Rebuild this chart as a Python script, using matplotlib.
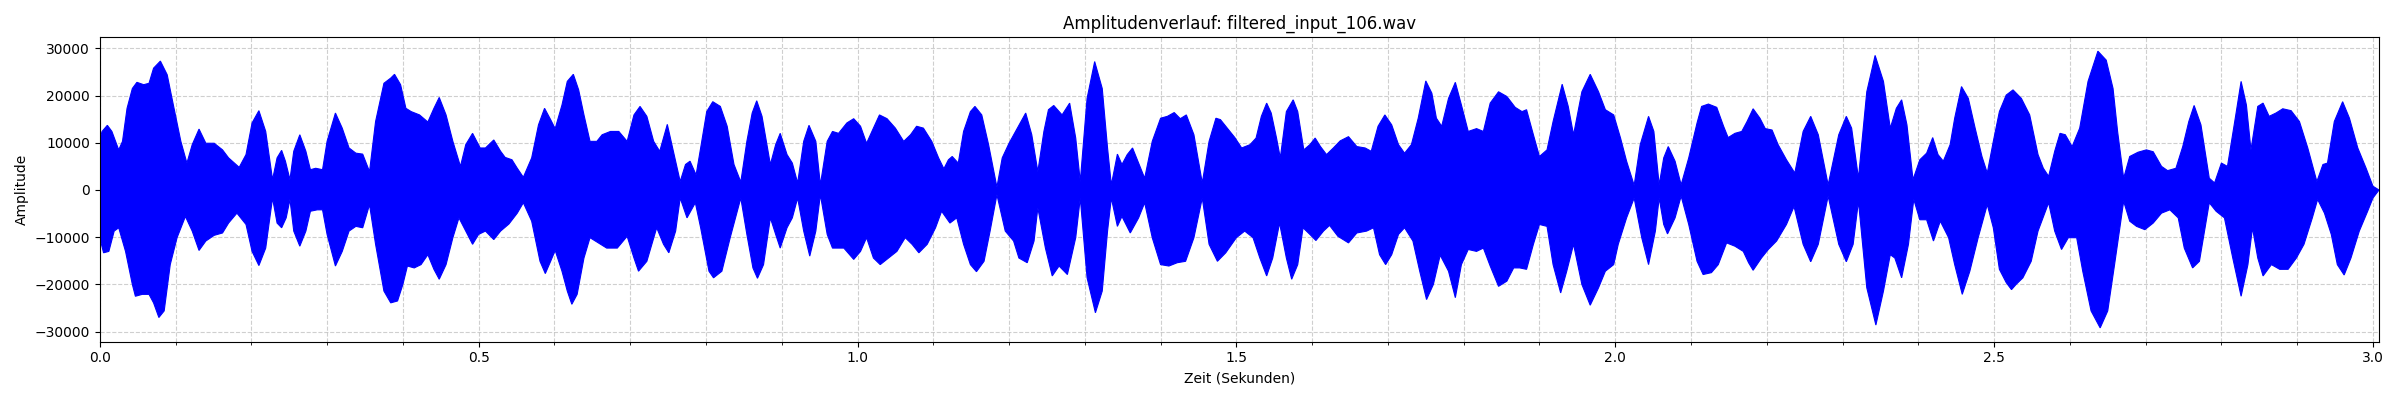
import numpy as np
import matplotlib
matplotlib.use("Agg")
import matplotlib.pyplot as plt
from matplotlib.ticker import MultipleLocator

title = "Amplitudenverlauf: filtered_input_106.wav"
x_label = "Zeit (Sekunden)"
y_label = "Amplitude"
duration = 3.008

# Upper envelope of the waveform (time in s, amplitude)
upper_t = [0.000, 0.003, 0.010, 0.016, 0.025, 0.030, 0.036, 0.043, 0.049, 0.058, 0.065, 0.071, 0.080, 0.089, 0.098,
           0.107, 0.115, 0.122, 0.131, 0.140, 0.151, 0.162, 0.170, 0.184, 0.193, 0.201, 0.210, 0.219, 0.228, 0.234,
           0.240, 0.245, 0.251, 0.256, 0.264, 0.272, 0.278, 0.285, 0.294, 0.300, 0.311, 0.320, 0.329, 0.338, 0.347,
           0.356, 0.364, 0.375, 0.384, 0.389, 0.397, 0.404, 0.411, 0.422, 0.433, 0.441, 0.448, 0.457, 0.466, 0.476,
           0.483, 0.492, 0.502, 0.509, 0.520, 0.529, 0.535, 0.544, 0.551, 0.559, 0.570, 0.579, 0.587, 0.595, 0.601,
           0.610, 0.617, 0.625, 0.632, 0.639, 0.647, 0.656, 0.663, 0.674, 0.685, 0.696, 0.705, 0.713, 0.722, 0.731,
           0.739, 0.749, 0.757, 0.766, 0.773, 0.779, 0.787, 0.793, 0.801, 0.809, 0.819, 0.828, 0.837, 0.846, 0.854,
           0.861, 0.867, 0.874, 0.885, 0.892, 0.898, 0.907, 0.914, 0.921, 0.929, 0.936, 0.945, 0.951, 0.960, 0.967,
           0.975, 0.986, 0.995, 1.004, 1.012, 1.021, 1.029, 1.039, 1.050, 1.061, 1.070, 1.078, 1.087, 1.098, 1.107,
           1.114, 1.120, 1.125, 1.133, 1.140, 1.149, 1.155, 1.164, 1.173, 1.184, 1.191, 1.200, 1.211, 1.222, 1.230,
           1.238, 1.246, 1.252, 1.259, 1.270, 1.280, 1.288, 1.294, 1.303, 1.313, 1.323, 1.330, 1.335, 1.343, 1.349,
           1.356, 1.363, 1.371, 1.379, 1.389, 1.400, 1.409, 1.418, 1.426, 1.434, 1.444, 1.455, 1.464, 1.473, 1.479,
           1.490, 1.498, 1.507, 1.518, 1.526, 1.533, 1.540, 1.546, 1.553, 1.558, 1.566, 1.575, 1.581, 1.589, 1.597,
           1.604, 1.611, 1.619, 1.628, 1.637, 1.648, 1.659, 1.670, 1.678, 1.687, 1.696, 1.705, 1.714, 1.722, 1.731,
           1.740, 1.750, 1.758, 1.764, 1.771, 1.780, 1.789, 1.797, 1.806, 1.817, 1.826, 1.835, 1.846, 1.857, 1.868,
           1.877, 1.883, 1.892, 1.900, 1.910, 1.918, 1.930, 1.938, 1.945, 1.956, 1.967, 1.978, 1.987, 1.998, 2.007,
           2.015, 2.025, 2.033, 2.044, 2.051, 2.058, 2.064, 2.070, 2.079, 2.087, 2.097, 2.108, 2.114, 2.123, 2.134,
           2.143, 2.149, 2.158, 2.167, 2.174, 2.182, 2.191, 2.198, 2.207, 2.215, 2.226, 2.237, 2.248, 2.258, 2.268,
           2.281, 2.295, 2.305, 2.312, 2.321, 2.332, 2.343, 2.354, 2.363, 2.371, 2.378, 2.385, 2.393, 2.402, 2.411,
           2.419, 2.426, 2.433, 2.442, 2.448, 2.457, 2.466, 2.475, 2.484, 2.491, 2.499, 2.507, 2.516, 2.525, 2.536,
           2.547, 2.558, 2.565, 2.572, 2.580, 2.587, 2.594, 2.603, 2.613, 2.624, 2.637, 2.648, 2.657, 2.663, 2.671,
           2.679, 2.690, 2.701, 2.710, 2.721, 2.729, 2.740, 2.749, 2.757, 2.764, 2.773, 2.784, 2.791, 2.800, 2.808,
           2.819, 2.826, 2.833, 2.839, 2.848, 2.855, 2.863, 2.872, 2.881, 2.892, 2.903, 2.914, 2.926, 2.934, 2.940,
           2.949, 2.960, 2.969, 2.980, 2.991, 3.000, 3.008]
upper_a = [10600, 12400, 13700, 12400, 8500, 10300, 17300, 21500, 22800, 22300, 22600, 25800, 27300, 24400, 17300,
           10300, 5700, 9600, 12900, 9900, 9900, 8500, 6800, 4800, 7500, 14200, 16800, 12400, 2200, 6800,
           8400, 6100, 2200, 8200, 11700, 8200, 4300, 4600, 4300, 10300, 16300, 13100, 8900, 7800, 7600,
           3900, 14500, 22600, 23700, 24500, 22300, 17300, 16600, 15900, 14400, 17300, 19600, 15900, 10300, 5000,
           9600, 12000, 8900, 8900, 10600, 8200, 6900, 6400, 4600, 2700, 6800, 13800, 17300, 14900, 13000,
           18000, 23000, 24500, 21200, 15900, 10300, 10300, 11700, 12400, 12400, 10300, 15900, 17700, 15600, 10300,
           8200, 13900, 8200, 1800, 5400, 6100, 3200, 8900, 16600, 18700, 17700, 13500, 5400, 1700, 10300,
           16300, 18900, 15600, 5400, 9600, 12000, 7500, 5700, 1500, 10300, 13700, 10300, 1100, 10300, 12400,
           12000, 14200, 15100, 13500, 9900, 13100, 15900, 15100, 13100, 10300, 11700, 13500, 13100, 10300, 6800,
           4500, 6400, 7100, 5700, 12400, 16600, 17700, 15900, 9600, 600, 6800, 9900, 13100, 16300, 11700,
           3900, 12400, 17000, 17900, 15900, 18400, 11000, 1800, 19400, 27200, 21500, 8900, 1100, 7600, 5400,
           7500, 8900, 5700, 2500, 10300, 15200, 15600, 16400, 15100, 15900, 11700, 1500, 10300, 15200, 14900,
           12700, 11100, 8900, 9600, 11000, 15600, 18400, 16300, 11000, 6800, 16600, 19100, 16600, 8500, 9600,
           11000, 9200, 7500, 8900, 10400, 11300, 9200, 8900, 8200, 13500, 15900, 13800, 9600, 7800, 9600,
           15200, 23100, 20500, 15200, 13500, 19400, 22800, 18000, 12400, 13000, 12400, 18400, 20800, 19800, 17500,
           16600, 17000, 11700, 7100, 8500, 14500, 22400, 17700, 11700, 20800, 24500, 20800, 17000, 15900, 11000,
           6100, 1000, 9600, 15600, 12400, 1100, 6800, 9200, 6100, 1100, 6800, 14200, 17700, 18200, 17500,
           13500, 11100, 12000, 12400, 14500, 17200, 15200, 13000, 12700, 9600, 6400, 3600, 12400, 15600, 11700,
           1100, 11700, 15600, 13100, 2500, 20800, 28500, 23000, 13100, 17300, 19100, 13800, 2200, 6400, 7800,
           11100, 7500, 6100, 9600, 15200, 21900, 19400, 13100, 7100, 3600, 10300, 16600, 20100, 21200, 19400,
           15900, 7500, 4600, 2900, 8200, 12000, 11700, 9200, 13100, 23000, 29400, 27500, 21500, 12400, 2500,
           7100, 8000, 8500, 8100, 5000, 4100, 4600, 9200, 14500, 17900, 13800, 2500, 1500, 5700, 5000,
           15900, 23000, 18000, 8500, 17700, 18400, 15600, 16300, 17200, 16800, 14500, 8900, 1800, 5400, 5700,
           14500, 18700, 15200, 8900, 4600, 800, 0]

# Lower envelope of the waveform (time in s, amplitude)
lower_t = [0.000, 0.005, 0.012, 0.019, 0.025, 0.034, 0.043, 0.047, 0.056, 0.065, 0.071, 0.078, 0.085, 0.093, 0.102,
           0.113, 0.122, 0.131, 0.140, 0.151, 0.162, 0.170, 0.181, 0.193, 0.201, 0.210, 0.219, 0.228, 0.234, 0.240,
           0.246, 0.251, 0.256, 0.264, 0.272, 0.278, 0.287, 0.294, 0.300, 0.311, 0.320, 0.329, 0.338, 0.347, 0.356,
           0.364, 0.375, 0.384, 0.393, 0.400, 0.406, 0.415, 0.424, 0.433, 0.441, 0.448, 0.457, 0.466, 0.474, 0.483,
           0.492, 0.500, 0.509, 0.520, 0.529, 0.540, 0.551, 0.559, 0.570, 0.581, 0.588, 0.595, 0.601, 0.610, 0.617,
           0.623, 0.630, 0.639, 0.647, 0.658, 0.669, 0.683, 0.696, 0.705, 0.711, 0.722, 0.735, 0.744, 0.751, 0.760,
           0.766, 0.775, 0.786, 0.793, 0.804, 0.810, 0.821, 0.832, 0.846, 0.854, 0.862, 0.868, 0.876, 0.885, 0.892,
           0.898, 0.907, 0.914, 0.921, 0.929, 0.937, 0.945, 0.951, 0.960, 0.967, 0.982, 0.995, 1.004, 1.012, 1.021,
           1.030, 1.041, 1.052, 1.063, 1.072, 1.081, 1.092, 1.103, 1.111, 1.122, 1.131, 1.140, 1.149, 1.157, 1.167,
           1.175, 1.184, 1.195, 1.206, 1.213, 1.224, 1.233, 1.238, 1.248, 1.257, 1.266, 1.277, 1.288, 1.294, 1.303,
           1.314, 1.323, 1.330, 1.335, 1.343, 1.349, 1.360, 1.371, 1.379, 1.389, 1.400, 1.411, 1.422, 1.433, 1.444,
           1.455, 1.464, 1.475, 1.486, 1.500, 1.511, 1.522, 1.531, 1.540, 1.548, 1.557, 1.566, 1.573, 1.581, 1.588,
           1.597, 1.605, 1.615, 1.623, 1.634, 1.648, 1.659, 1.672, 1.681, 1.689, 1.697, 1.705, 1.714, 1.722, 1.733,
           1.742, 1.751, 1.760, 1.769, 1.780, 1.789, 1.797, 1.806, 1.817, 1.826, 1.835, 1.846, 1.857, 1.866, 1.874,
           1.883, 1.892, 1.900, 1.910, 1.918, 1.928, 1.936, 1.945, 1.956, 1.967, 1.978, 1.987, 1.998, 2.004, 2.015,
           2.025, 2.035, 2.044, 2.053, 2.058, 2.064, 2.069, 2.079, 2.087, 2.097, 2.108, 2.116, 2.127, 2.136, 2.147,
           2.158, 2.169, 2.176, 2.182, 2.193, 2.202, 2.213, 2.226, 2.236, 2.248, 2.258, 2.268, 2.281, 2.295, 2.305,
           2.314, 2.321, 2.332, 2.344, 2.354, 2.363, 2.369, 2.378, 2.387, 2.394, 2.402, 2.411, 2.420, 2.429, 2.440,
           2.448, 2.458, 2.468, 2.479, 2.491, 2.499, 2.507, 2.516, 2.523, 2.529, 2.538, 2.549, 2.558, 2.572, 2.580,
           2.589, 2.598, 2.609, 2.617, 2.628, 2.640, 2.650, 2.659, 2.671, 2.679, 2.688, 2.699, 2.710, 2.721, 2.732,
           2.743, 2.751, 2.762, 2.771, 2.784, 2.793, 2.804, 2.815, 2.826, 2.835, 2.841, 2.848, 2.855, 2.866, 2.877,
           2.888, 2.899, 2.909, 2.920, 2.927, 2.936, 2.945, 2.953, 2.962, 2.971, 2.982, 2.993, 3.000, 3.008]
lower_a = [-10100, -13300, -13000, -8700, -8000, -13000, -20000, -22500, -22100, -22100, -23900, -27000, -25600, -15800, -10100,
           -5600, -8700, -12800, -10800, -9600, -9100, -7000, -4900, -7300, -13000, -16000, -12300, -1700, -7000, -8000,
           -5900, -2000, -8700, -11900, -8700, -4500, -4200, -4200, -9400, -16100, -13000, -8700, -7700, -8000, -3100,
           -11500, -21400, -23900, -23500, -20000, -16100, -16500, -15800, -13700, -16800, -18900, -15800, -10100, -5900, -8700,
           -11500, -9400, -8700, -10500, -8700, -7200, -4900, -2700, -6600, -15100, -17700, -15100, -12800, -17200, -21400,
           -24200, -22100, -14400, -10100, -11200, -12300, -12300, -9800, -14400, -17200, -15100, -8000, -11500, -13300, -8700,
           -1700, -5900, -2700, -8000, -17200, -18600, -17200, -10100, -1700, -9400, -16500, -18700, -15800, -5900, -9400,
           -12300, -8000, -5900, -1700, -8700, -14000, -8700, -1000, -9400, -12300, -12300, -14700, -13000, -10100, -14400,
           -15800, -14400, -13000, -10100, -11500, -13300, -11500, -8000, -4500, -7000, -5900, -11500, -15800, -17300, -15100,
           -8700, -1000, -8700, -10800, -14400, -15400, -10800, -3800, -12300, -18200, -16100, -17900, -10100, -1700, -18600,
           -26000, -21400, -8700, -1700, -7700, -5600, -9100, -5900, -2700, -10100, -15800, -16100, -15400, -15100, -10100,
           -1700, -11500, -15100, -13300, -10100, -8700, -10100, -14400, -18200, -14400, -7000, -14400, -18900, -15800, -8000,
           -9400, -10700, -8700, -7500, -9800, -11200, -9100, -8700, -8000, -13700, -15800, -13700, -9400, -8000, -10800,
           -17200, -23200, -20000, -13800, -17200, -22800, -15800, -12600, -13000, -12300, -16100, -20400, -19300, -16500, -16500,
           -16800, -11500, -7300, -7700, -15800, -21800, -17200, -11500, -20000, -24400, -20700, -17200, -15800, -11500, -5900,
           -1700, -10100, -15800, -8700, -1700, -7300, -9300, -5900, -1300, -7300, -15100, -17900, -17500, -15800, -11200,
           -11900, -13000, -15400, -17000, -14400, -12600, -10800, -7300, -3500, -11500, -15200, -11500, -1300, -11500, -15200,
           -11500, -2400, -20700, -28600, -21400, -13700, -14400, -18600, -11500, -2000, -6300, -6300, -10800, -6600, -10100,
           -15800, -22100, -17200, -10100, -3100, -8000, -16800, -19600, -21100, -20000, -18600, -15100, -8700, -2700, -8700,
           -12600, -10100, -10100, -17200, -25600, -29200, -25600, -15800, -2400, -6600, -7700, -8400, -7000, -4900, -4200,
           -5900, -12300, -16500, -15100, -2700, -4500, -5900, -14400, -22500, -15800, -8000, -14400, -18200, -15800, -16800,
           -16800, -14400, -11500, -5900, -2000, -4900, -9400, -15800, -18000, -14400, -8700, -4500, -1700, 0]

fig, ax = plt.subplots(figsize=(24, 4), dpi=100)

poly_x = np.concatenate([upper_t, lower_t[::-1]])
poly_y = np.concatenate([upper_a, lower_a[::-1]])
ax.fill(poly_x, poly_y, facecolor="blue", edgecolor="blue", linewidth=0.8, zorder=2)

ax.set_xlim(0, duration)
ax.margins(y=0.05)
ax.xaxis.set_major_locator(MultipleLocator(0.5))
ax.xaxis.set_minor_locator(MultipleLocator(0.1))
ax.yaxis.set_major_locator(MultipleLocator(10000))
ax.grid(True, which="both", linestyle="--", alpha=0.6)

ax.set_title(title)
ax.set_xlabel(x_label)
ax.set_ylabel(y_label)

fig.tight_layout()
fig.savefig("out.png")
